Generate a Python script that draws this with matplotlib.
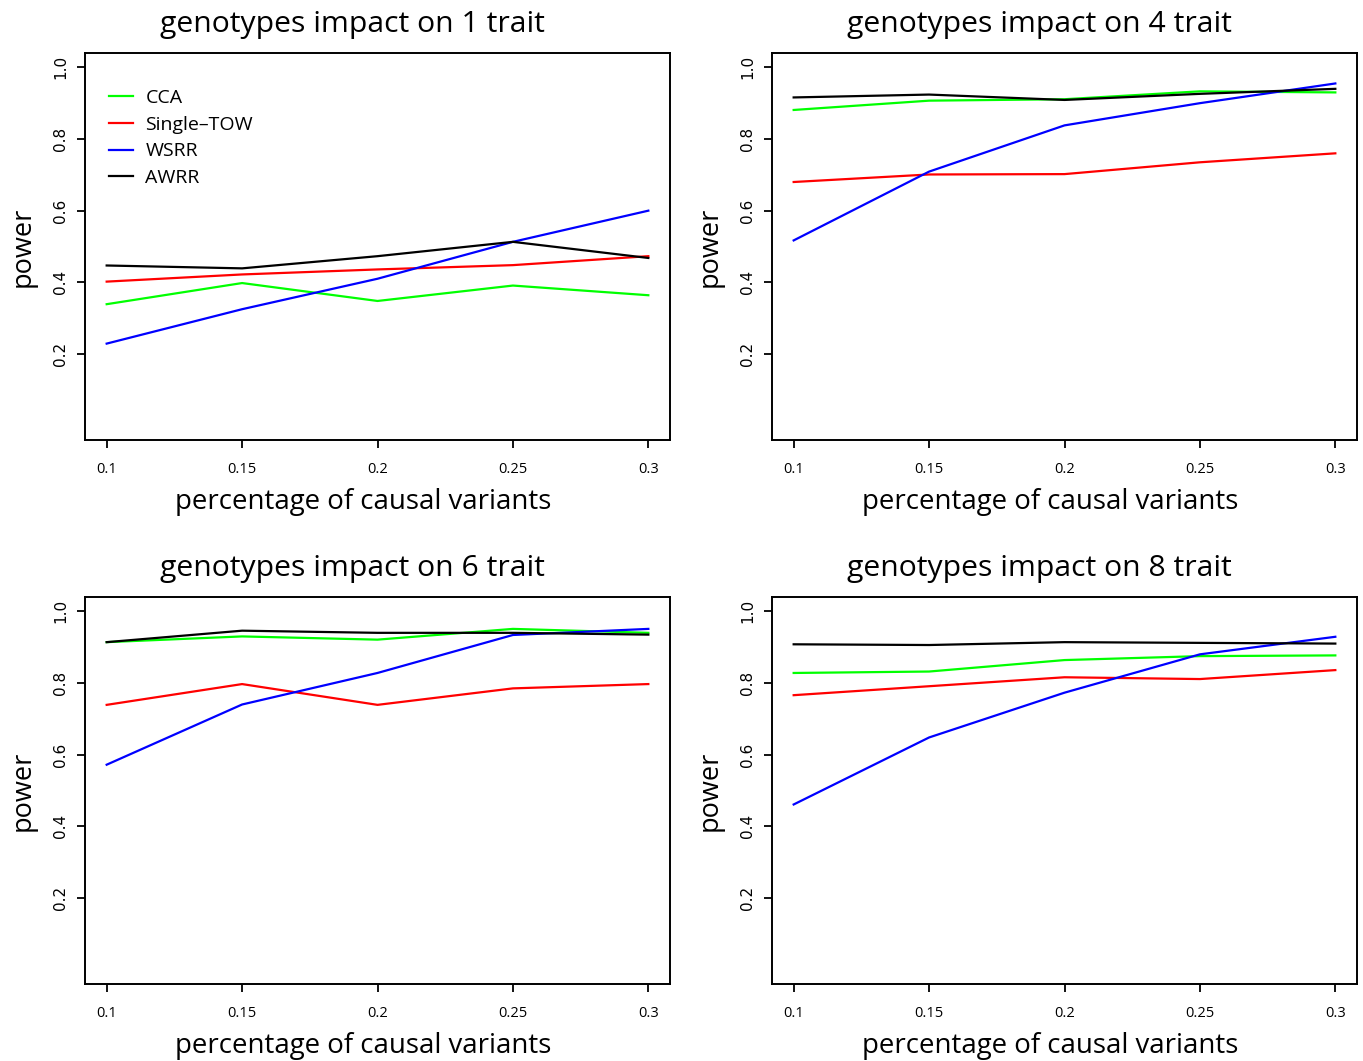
import matplotlib
matplotlib.use('agg')
import matplotlib.pyplot as plt

plt.rcParams['font.family'] = ['Open Sans', 'DejaVu Sans']

pct = [0.1, 0.15, 0.2, 0.25, 0.3]
methods = ['CCA', 'Single\u2013TOW', 'WSRR', 'AWRR']
colors = ['#00ff00', '#ff0000', '#0000ff', '#000000']
traits = [1, 4, 6, 8]

# power for each panel, rows follow the order of methods
power_1 = [
	[0.339, 0.398, 0.348, 0.391, 0.364],
	[0.402, 0.422, 0.436, 0.448, 0.473],
	[0.229, 0.325, 0.410, 0.513, 0.600],
	[0.447, 0.439, 0.473, 0.513, 0.468],
]
power_4 = [
	[0.881, 0.907, 0.911, 0.933, 0.930],
	[0.680, 0.701, 0.702, 0.735, 0.760],
	[0.517, 0.709, 0.838, 0.900, 0.955],
	[0.916, 0.924, 0.909, 0.926, 0.940],
]
power_6 = [
	[0.914, 0.930, 0.921, 0.951, 0.940],
	[0.739, 0.797, 0.739, 0.785, 0.797],
	[0.572, 0.740, 0.828, 0.934, 0.951],
	[0.914, 0.946, 0.940, 0.940, 0.935],
]
power_8 = [
	[0.828, 0.832, 0.864, 0.875, 0.877],
	[0.766, 0.791, 0.816, 0.811, 0.836],
	[0.461, 0.648, 0.773, 0.880, 0.929],
	[0.908, 0.906, 0.914, 0.912, 0.910],
]
panels = [power_1, power_4, power_6, power_8]

W, H = 1363, 1061
boxes = [(85, 53), (772, 53), (85, 597), (772, 597)]


def draw_panel(ax, values, trait, legend=False):
	for vals, name, col in zip(values, methods, colors):
		ax.plot(pct, vals, color=col, lw=1.6, label=name)
	ax.set_xlim(0.1 - 0.008, 0.3 + 0.008)
	ax.set_ylim(-0.04, 1.04)
	ax.set_xticks(pct)
	ax.set_xticklabels(['0.1', '0.15', '0.2', '0.25', '0.3'], fontsize=10.5)
	ax.set_yticks([0.2, 0.4, 0.6, 0.8, 1.0])
	ax.set_yticklabels(['0.2', '0.4', '0.6', '0.8', '1.0'], rotation=90,
		va='center', fontsize=11, family='DejaVu Sans')
	ax.tick_params(length=6, width=1.3)
	ax.tick_params(axis='x', pad=10)
	ax.tick_params(axis='y', pad=6)
	for s in ax.spines.values():
		s.set_linewidth(1.4)
	ax.set_title('genotypes impact on %d trait' % trait, fontsize=21.7, pad=15, x=0.457)
	ax.set_xlabel('percentage of causal variants', fontsize=19.9)
	ax.xaxis.set_label_coords(0.476, -0.123)
	ax.set_ylabel('power', fontsize=19.5, labelpad=12)
	if legend:
		ax.legend(loc='upper left', bbox_to_anchor=(0.0, 0.97), frameon=False,
			fontsize=14, handlelength=1.24, handletextpad=0.62,
			labelspacing=0.45, borderaxespad=0.85)


def main():
	fig = plt.figure(figsize=(W / 100, H / 100), dpi=100)
	for i, (x0, y0) in enumerate(boxes):
		ax = fig.add_axes([x0 / W, 1 - (y0 + 387) / H, 585 / W, 387 / H])
		draw_panel(ax, panels[i], traits[i], legend=(i == 0))
	fig.savefig('out.png', dpi=100)


if __name__ == '__main__':
	main()
